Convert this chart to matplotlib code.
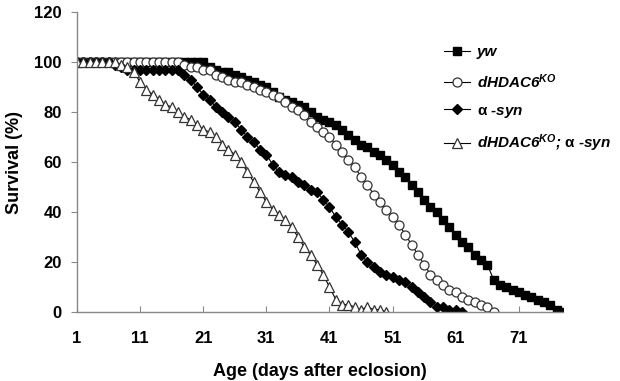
import matplotlib.pyplot as plt

# survival (%) per day after eclosion
yw = [100] * 21 + [98, 97, 96, 96, 95, 94, 93, 92, 91, 90, 88, 86, 85, 84, 83, 82, 80, 78, 77,
                   76, 75, 73, 71, 69, 67, 66, 64, 63, 61, 59, 56, 54, 51, 48, 45, 42, 40, 37,
                   34, 31, 28, 26, 23, 21, 19, 13, 11, 10, 9, 8, 7, 6, 5, 4, 3, 1, 0]
ko = [100] * 17 + [99, 98, 98, 97, 97, 95, 94, 93, 92, 92, 91, 90, 89, 88, 87, 86, 84, 82, 81,
                   79, 76, 74, 72, 70, 67, 64, 61, 58, 54, 51, 47, 44, 41, 38, 35, 31, 27, 23,
                   19, 15, 13, 11, 9, 8, 6, 5, 4, 3, 2, 0]
syn = [100] * 6 + [99, 98, 97] + [97] * 8 + [95, 93, 90, 87, 85, 82, 80, 78, 76, 73, 70, 68, 65,
                                             63, 59, 56, 55, 54, 52, 51, 49, 48, 45, 42, 38, 35,
                                             32, 28, 23, 20, 18, 16, 15, 14, 13, 12, 10, 8, 6, 4,
                                             2, 2, 1, 1, 0]
ko_syn = [100] * 7 + [99, 98, 96, 92, 89, 87, 85, 83, 82, 80, 78, 77, 75, 73, 72, 70, 67, 65, 63,
                      60, 56, 52, 48, 44, 41, 39, 37, 34, 30, 26, 23, 19, 15, 10, 5, 3, 3, 2, 1,
                      2, 1, 1, 0]

labels = ['yw', r'dHDAC6$^{\mathregular{KO}}$', r'$\mathsf{α}$ -syn',
          r'dHDAC6$^{\mathregular{KO}}$; $\mathsf{α}$ -syn']
x_ticks = [1, 11, 21, 31, 41, 51, 61, 71]
y_ticks = [0, 20, 40, 60, 80, 100, 120]

plt.rcParams['font.family'] = ['Liberation Sans', 'DejaVu Sans']
plt.rcParams['font.weight'] = 'bold'
plt.rcParams['mathtext.fontset'] = 'custom'
plt.rcParams['mathtext.rm'] = 'Liberation Sans:italic:bold'
plt.rcParams['mathtext.it'] = 'Liberation Sans:italic:bold'
plt.rcParams['mathtext.sf'] = 'Liberation Sans'

fig = plt.figure(figsize=(6.2, 3.81), dpi=100)
ax = fig.add_axes([77 / 620, 1 - 312 / 381, (563 - 77) / 620, 300 / 381])

def days(v):
    return list(range(1, len(v) + 1))

ax.plot(days(yw), yw, color='black', lw=0.8, marker='s', ms=6, mfc='black', mec='black', label=labels[0])
ax.plot(days(ko), ko, color='black', lw=0.8, marker='o', ms=6.5, mfc='white', mec='#333333', mew=0.9, label=labels[1])
ax.plot(days(syn), syn, color='black', lw=0.8, marker='D', ms=5, mfc='black', mec='black', label=labels[2])
ax.plot(days(ko_syn), ko_syn, color='black', lw=0.8, marker='^', ms=7, mfc='white', mec='#333333', mew=0.9, label=labels[3])

ax.set_xlim(1, 78)
ax.set_ylim(0, 120)
ax.set_xticks(x_ticks)
ax.set_yticks(y_ticks)
ax.tick_params(axis='x', direction='in', length=4, pad=14, labelsize=12, color='#888888')
ax.tick_params(axis='y', direction='out', length=4, pad=7, labelsize=12, color='#888888')
for s in ['top', 'right']:
    ax.spines[s].set_visible(False)
for s in ['left', 'bottom']:
    ax.spines[s].set_color('#888888')
    ax.spines[s].set_linewidth(1.0)

ax.set_xlabel('Age (days after eclosion)', fontsize=13, fontweight='bold', labelpad=12)
ax.set_ylabel('Survival (%)', fontsize=13, fontweight='bold', labelpad=8)

leg = ax.legend(loc='upper left', bbox_to_anchor=(444 / 620, 1 - 45 / 381), bbox_transform=fig.transFigure,
                frameon=False, borderpad=0, borderaxespad=0, handlelength=1.7, handletextpad=0.45,
                labelspacing=0.85,
                prop={'family': 'Liberation Sans', 'weight': 'bold', 'style': 'italic', 'size': 11})

fig.savefig('out.png', dpi=100)
